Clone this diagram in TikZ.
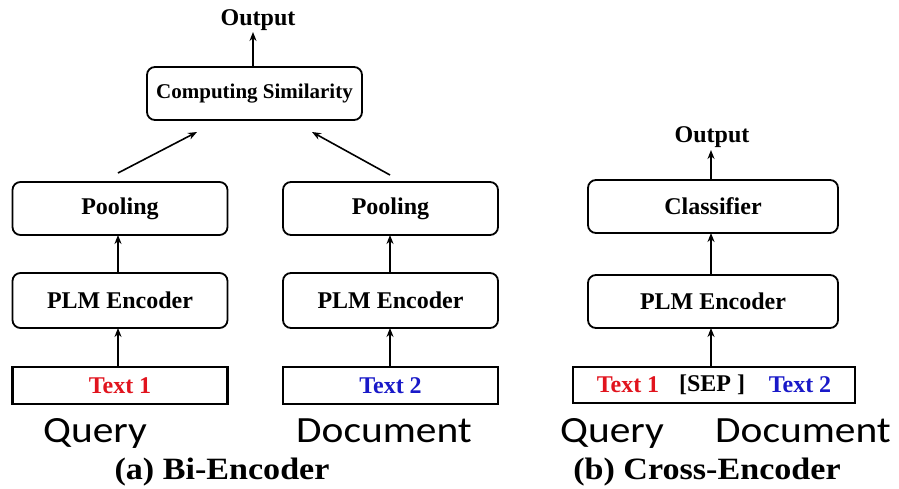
\documentclass[tikz,border=0pt]{standalone}
\usepackage{fontspec}
\setmainfont{Liberation Serif}
\newfontfamily\calib{Carlito}
\usetikzlibrary{arrows.meta}
\definecolor{tred}{RGB}{225,20,30}
\definecolor{tblue}{RGB}{25,25,200}
\tikzset{
  rbox/.style={draw, line width=1.8pt, rounded corners=8pt, minimum width=215pt, minimum height=53pt, inner sep=0pt, font=\fontsize{24}{28}\selectfont\bfseries},
  tbox/.style={draw, line width=2.4pt, minimum width=215pt, minimum height=37pt, inner sep=0pt, font=\fontsize{24}{28}\selectfont\bfseries},
  lab/.style={font=\fontsize{24}{28}\selectfont\bfseries, inner sep=0pt, anchor=base},
  sans/.style={font=\fontsize{37}{40}\selectfont\calib, inner sep=0pt, anchor=base},
  captext/.style={font=\fontsize{31}{34}\selectfont\bfseries, inner sep=0pt, anchor=base},
  arr/.style={line width=1.6pt, -{Stealth[length=9pt,width=7pt]}}
}
\begin{document}
\begin{tikzpicture}[x=1pt,y=-1pt]
\useasboundingbox (0,0) rectangle (899,488);
% Bi-Encoder
\node[rbox, font=\fontsize{21}{24}\selectfont\bfseries] (cs) at (254.5,93.5) {Computing Similarity};
\node[lab] (out1) at (258,25) {Output};
\node[rbox] (pool1) at (120,208.5) {Pooling};
\node[rbox] (pool2) at (390.5,208.5) {Pooling};
\node[rbox, minimum height=55pt] (plm1) at (120,300.5) {PLM Encoder};
\node[rbox, minimum height=55pt] (plm2) at (390.5,300.5) {PLM Encoder};
\node[tbox] (t1) at (120,385.5) {\textcolor{tred}{Text 1}};
\node[tbox] (t2) at (390.5,385.5) {\textcolor{tblue}{Text 2}};
\node[sans] (q1) at (95,442) {\scalebox{1.12}[1]{Query}};
\node[sans] (d1) at (384,442) {\scalebox{1.12}[1]{Document}};
\node[captext] (capa) at (222,479) {\scalebox{1.1}[1]{(a) Bi-Encoder}};
\coordinate (a1s) at (118,173);
\coordinate (a1e) at (197,132);
\coordinate (a2s) at (390,175);
\coordinate (a2e) at (312,132);
\draw[arr] (a1s) -- (a1e);
\draw[arr] (a2s) -- (a2e);
\draw[arr] (cs.north -| 253,0) -- (253,32);
\draw[arr] (plm1.north -| 118,0) -- (118,235);
\draw[arr] (plm2.north -| 390,0) -- (390,235);
\draw[arr] (t1.north -| 118,0) -- (118,328);
\draw[arr] (t2.north -| 390,0) -- (390,328);
% Cross-Encoder
\node[lab] (out2) at (712,142) {Output};
\node[rbox, minimum width=250pt] (cls) at (713,206.5) {Classifier};
\node[rbox, minimum width=250pt] (plm3) at (713,301.5) {PLM Encoder};
\node[tbox, minimum width=282pt, minimum height=36pt] (t3) at (714,385) {};
\node[lab, anchor=center] (t3a) at (628,385) {\textcolor{tred}{Text 1}};
\node[lab, anchor=center] (t3b) at (712,385) {[SEP ]};
\node[lab, anchor=center] (t3c) at (800,385) {\textcolor{tblue}{Text 2}};
\node[sans] (q2) at (612,442) {\scalebox{1.12}[1]{Query}};
\node[sans] (d2) at (803,442) {\scalebox{1.12}[1]{Document}};
\node[captext] (capb) at (707,479) {\scalebox{1.1}[1]{(b) Cross-Encoder}};
\draw[arr] (cls.north -| 711,0) -- (711,150);
\draw[arr] (plm3.north -| 711,0) -- (711,233);
\draw[arr] (t3.north -| 711,0) -- (711,328);
\end{tikzpicture}
\end{document}
